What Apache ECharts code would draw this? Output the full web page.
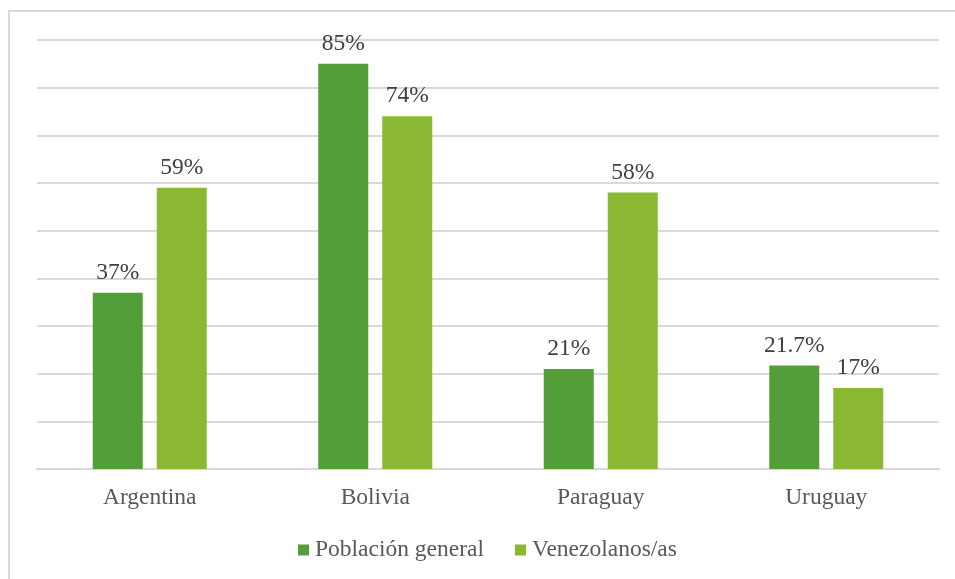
<!DOCTYPE html>
<html>
<head>
<meta charset="utf-8">
<script src="https://cdn.jsdelivr.net/npm/echarts@6/dist/echarts.min.js"></script>
<style>html,body{margin:0;padding:0;background:#fff;overflow:hidden;}#c{width:955px;height:579px;}</style>
</head>
<body>
<div id="c"></div>
<script>
const categories = ['Argentina', 'Bolivia', 'Paraguay', 'Uruguay'];
const poblacionGeneral = [37, 85, 21, 21.7];
const venezolanos = [59, 74, 58, 17];
const seriesNames = ['Población general', 'Venezolanos/as'];

const chart = echarts.init(document.getElementById('c'), null, {renderer: 'canvas'});
const font = '"Liberation Serif", "Times New Roman", serif';
const lbl = {
  show: true, position: 'top', distance: 8,
  color: '#404040', fontFamily: font, fontSize: 23.5,
  formatter: p => p.value + '%'
};
chart.setOption({
  animation: false,
  graphic: [
    {type: 'line', z: -1, silent: true, shape: {x1: 9, y1: 11, x2: 980, y2: 11},
     style: {stroke: '#d9d9d9', lineWidth: 2}},
    {type: 'line', z: -1, silent: true, shape: {x1: 9, y1: 10, x2: 9, y2: 600},
     style: {stroke: '#d9d9d9', lineWidth: 2}}
  ],
  grid: {left: 37, right: 16, top: 40, bottom: 110, containLabel: false},
  legend: {
    bottom: 12, left: 293,
    itemWidth: 11, itemHeight: 11, itemGap: 31,
    icon: 'rect',
    textStyle: {color: '#595959', fontFamily: font, fontSize: 23.5, padding: [0, 0, 0, 1]},
    data: seriesNames
  },
  xAxis: {
    type: 'category', data: categories,
    axisLine: {show: true, lineStyle: {color: '#d9d9d9', width: 2}},
    axisTick: {show: false},
    axisLabel: {color: '#595959', fontFamily: font, fontSize: 23.5, margin: 17}
  },
  yAxis: {
    type: 'value', min: 0, max: 90, interval: 10,
    axisLabel: {show: false}, axisLine: {show: false}, axisTick: {show: false},
    splitLine: {lineStyle: {color: '#d9d9d9', width: 2}}
  },
  series: [
    {name: seriesNames[0], type: 'bar', data: poblacionGeneral, barWidth: 50, barGap: '28%',
     itemStyle: {color: '#549E39'}, label: lbl},
    {name: seriesNames[1], type: 'bar', data: venezolanos, barWidth: 50, barGap: '28%',
     itemStyle: {color: '#8AB833'}, label: lbl}
  ]
});
</script>
</body>
</html>
